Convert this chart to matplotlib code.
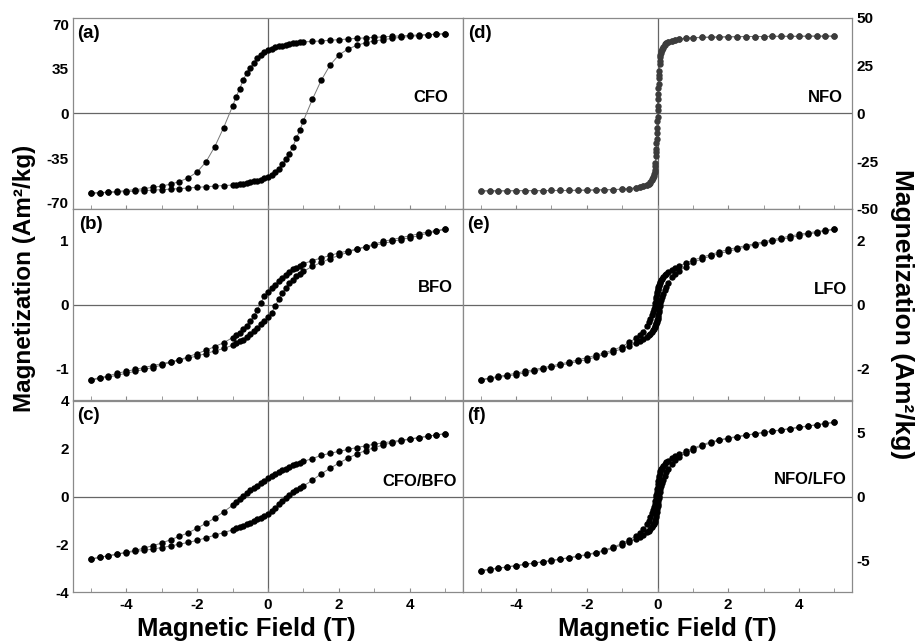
import matplotlib
matplotlib.use("Agg")
import matplotlib.pyplot as plt
from matplotlib.ticker import MultipleLocator

plt.rcParams['font.family'] = ['Liberation Sans', 'DejaVu Sans']
plt.rcParams['font.weight'] = 'bold'
plt.rcParams['axes.unicode_minus'] = False

# field steps (T), sweep from +5 to -5; the return branch uses the same fields
H_coarse = [5.0, 4.75, 4.5, 4.25, 4.0, 3.75, 3.5, 3.25, 3.0, 2.75, 2.5, 2.25, 2.0, 1.75, 1.5, 1.25,
            1.0, 0.9, 0.8, 0.7, 0.6, 0.5, 0.4, 0.3, 0.2, 0.1, 0.0, -0.1, -0.2, -0.3, -0.4, -0.5,
            -0.6, -0.7, -0.8, -0.9, -1.0,
            -1.25, -1.5, -1.75, -2.0, -2.25, -2.5, -2.75, -3.0, -3.25, -3.5, -3.75, -4.0, -4.25,
            -4.5, -4.75, -5.0]
H_fine = [5.0, 4.75, 4.5, 4.25, 4.0, 3.75, 3.5, 3.25, 3.0, 2.75, 2.5, 2.25, 2.0, 1.75, 1.5, 1.25,
          1.0, 0.8, 0.6, 0.5, 0.4, 0.3, 0.25, 0.2, 0.15, 0.12, 0.1, 0.08, 0.06, 0.04, 0.03, 0.02,
          0.01, 0.0,
          -0.01, -0.02, -0.03, -0.04, -0.06, -0.08, -0.1, -0.12, -0.15, -0.2, -0.25, -0.3, -0.4,
          -0.5, -0.6, -0.8, -1.0,
          -1.25, -1.5, -1.75, -2.0, -2.25, -2.5, -2.75, -3.0, -3.25, -3.5, -3.75, -4.0, -4.25,
          -4.5, -4.75, -5.0]

# (a) CFO
cfo_down = [62.6, 62.3, 62.0, 61.7, 61.3, 61.0, 60.6, 60.2, 59.8, 59.4, 59.0, 58.5, 58.0, 57.5, 57.0, 56.6,
            56.2, 55.8, 55.4, 55.0, 54.5, 54.0, 53.4, 52.8, 52.0, 51.0, 49.8, 48.0, 46.0, 43.5, 40.0, 36.0,
            32.0, 26.0, 19.5, 13.0, 5.7,
            -11.0, -26.0, -38.0, -46.0, -50.5, -53.5, -55.5, -57.0, -58.0, -59.0, -59.8, -60.5, -61.2,
            -61.7, -62.2, -62.6]
cfo_up = [62.6, 62.2, 61.7, 61.2, 60.5, 59.8, 59.0, 58.0, 57.0, 55.5, 53.5, 50.5, 46.0, 38.0, 26.0, 11.0,
          -5.7, -13.0, -19.5, -26.0, -32.0, -36.0, -40.0, -43.5, -46.0, -48.0, -49.8, -51.0, -52.0, -52.8,
          -53.4, -54.0, -54.5, -55.0, -55.4, -55.8, -56.2,
          -56.6, -57.0, -57.5, -58.0, -58.5, -59.0, -59.4, -59.8, -60.2, -60.6, -61.0, -61.3, -61.7,
          -62.0, -62.3, -62.6]

# (b) BFO
bfo_down = [1.18, 1.15, 1.12, 1.08, 1.05, 1.02, 0.99, 0.96, 0.93, 0.90, 0.87, 0.84, 0.81, 0.77, 0.73, 0.69,
            0.64, 0.61, 0.58, 0.55, 0.51, 0.47, 0.42, 0.37, 0.31, 0.26, 0.20, 0.13, 0.03, -0.08, -0.18,
            -0.26, -0.33, -0.39, -0.44, -0.48, -0.52,
            -0.60, -0.66, -0.72, -0.77, -0.82, -0.87, -0.91, -0.95, -0.99, -1.02, -1.05, -1.08, -1.11,
            -1.14, -1.16, -1.19]
bfo_up = [1.19, 1.16, 1.14, 1.11, 1.08, 1.05, 1.02, 0.99, 0.95, 0.91, 0.87, 0.82, 0.77, 0.72, 0.66, 0.60,
          0.52, 0.48, 0.44, 0.39, 0.33, 0.26, 0.18, 0.08, -0.03, -0.13, -0.20, -0.26, -0.31, -0.37, -0.42,
          -0.47, -0.51, -0.55, -0.58, -0.61, -0.64,
          -0.69, -0.73, -0.77, -0.81, -0.84, -0.87, -0.90, -0.93, -0.96, -0.99, -1.02, -1.05, -1.08,
          -1.12, -1.15, -1.18]

# (c) CFO/BFO
cb_down = [2.63, 2.58, 2.52, 2.47, 2.41, 2.36, 2.30, 2.25, 2.19, 2.12, 2.05, 1.97, 1.89, 1.81, 1.72, 1.59,
           1.47, 1.42, 1.36, 1.30, 1.23, 1.16, 1.09, 1.01, 0.93, 0.86, 0.78, 0.66, 0.55, 0.45, 0.36, 0.26,
           0.15, 0.03, -0.09, -0.23, -0.37,
           -0.64, -0.90, -1.12, -1.33, -1.52, -1.67, -1.81, -1.95, -2.06, -2.16, -2.26, -2.33, -2.41,
           -2.48, -2.55, -2.62]
cb_up = [2.63, 2.58, 2.52, 2.46, 2.40, 2.33, 2.25, 2.16, 2.05, 1.92, 1.78, 1.60, 1.40, 1.18, 0.95, 0.68,
         0.44, 0.36, 0.28, 0.18, 0.07, -0.06, -0.19, -0.33, -0.47, -0.62, -0.75, -0.83, -0.90, -0.96,
         -1.03, -1.09, -1.15, -1.22, -1.28, -1.34, -1.40,
         -1.51, -1.62, -1.73, -1.84, -1.92, -2.00, -2.07, -2.14, -2.20, -2.26, -2.30, -2.35, -2.42,
         -2.48, -2.55, -2.62]

# (d) NFO
nfo_down = [40.5, 40.5, 40.5, 40.5, 40.4, 40.4, 40.4, 40.4, 40.3, 40.3, 40.3, 40.2, 40.2, 40.1, 40.0, 39.9,
            39.7, 39.4, 39.0, 38.7, 38.2, 37.5, 37.0, 36.2, 35.0, 33.8, 32.5, 30.5, 27.5, 22.5, 18.5,
            13.5, 7.5, 2.0,
            -4.0, -10.0, -15.5, -20.0, -26.0, -29.5, -31.8, -33.2, -34.5, -35.8, -36.7, -37.2, -38.0,
            -38.5, -38.9, -39.3, -39.6,
            -39.8, -39.9, -40.0, -40.1, -40.2, -40.3, -40.3, -40.3, -40.4, -40.4, -40.4, -40.4, -40.5,
            -40.5, -40.5, -40.5]
nfo_up = [40.5, 40.5, 40.5, 40.5, 40.4, 40.4, 40.4, 40.4, 40.3, 40.3, 40.3, 40.2, 40.1, 40.0, 39.9, 39.8,
          39.6, 39.3, 38.9, 38.5, 38.0, 37.2, 36.7, 35.8, 34.5, 33.2, 31.8, 29.5, 26.0, 20.0, 15.5,
          10.0, 4.0, -2.0,
          -7.5, -13.5, -18.5, -22.5, -27.5, -30.5, -32.5, -33.8, -35.0, -36.2, -37.0, -37.5, -38.2,
          -38.7, -39.0, -39.4, -39.7,
          -39.9, -40.0, -40.1, -40.2, -40.2, -40.3, -40.3, -40.3, -40.4, -40.4, -40.4, -40.4, -40.5,
          -40.5, -40.5, -40.5]

# (e) LFO
lfo_down = [2.37, 2.33, 2.29, 2.25, 2.20, 2.15, 2.09, 2.03, 1.97, 1.91, 1.85, 1.79, 1.73, 1.65, 1.57, 1.48,
            1.39, 1.30, 1.20, 1.14, 1.08, 1.01, 0.97, 0.92, 0.86, 0.81, 0.77, 0.72, 0.67, 0.61, 0.57,
            0.54, 0.50, 0.47,
            0.40, 0.33, 0.25, 0.18, 0.05, -0.06, -0.15, -0.22, -0.32, -0.45, -0.55, -0.68, -0.85,
            -0.97, -1.05, -1.19, -1.32,
            -1.43, -1.52, -1.60, -1.67, -1.74, -1.81, -1.87, -1.93, -1.99, -2.05, -2.10, -2.16, -2.21,
            -2.26, -2.31, -2.36]
lfo_up = [2.36, 2.31, 2.26, 2.21, 2.16, 2.10, 2.05, 1.99, 1.93, 1.87, 1.81, 1.74, 1.67, 1.60, 1.52, 1.43,
          1.32, 1.19, 1.05, 0.97, 0.85, 0.68, 0.55, 0.45, 0.32, 0.22, 0.15, 0.06, -0.05, -0.18, -0.25,
          -0.33, -0.40, -0.47,
          -0.50, -0.54, -0.57, -0.61, -0.67, -0.72, -0.77, -0.81, -0.86, -0.92, -0.97, -1.01, -1.08,
          -1.14, -1.20, -1.30, -1.39,
          -1.48, -1.57, -1.65, -1.73, -1.79, -1.85, -1.91, -1.97, -2.03, -2.09, -2.15, -2.20, -2.25,
          -2.29, -2.33, -2.37]

# (f) NFO/LFO
nl_down = [5.83, 5.74, 5.64, 5.54, 5.44, 5.34, 5.24, 5.14, 5.04, 4.93, 4.82, 4.71, 4.60, 4.45, 4.28, 4.05,
           3.78, 3.55, 3.32, 3.18, 3.00, 2.80, 2.68, 2.55, 2.38, 2.25, 2.15, 2.02, 1.85, 1.60, 1.42,
           1.20, 0.95, 0.75,
           0.55, 0.35, 0.15, -0.05, -0.35, -0.62, -0.85, -1.05, -1.30, -1.60, -1.90, -2.15, -2.55,
           -2.85, -3.08, -3.40, -3.68,
           -3.98, -4.20, -4.40, -4.55, -4.68, -4.80, -4.91, -5.02, -5.12, -5.22, -5.32, -5.42, -5.52,
           -5.62, -5.72, -5.82]
nl_up = [5.82, 5.72, 5.62, 5.52, 5.42, 5.32, 5.22, 5.12, 5.02, 4.91, 4.80, 4.68, 4.55, 4.40, 4.20, 3.98,
         3.68, 3.40, 3.08, 2.85, 2.55, 2.15, 1.90, 1.60, 1.30, 1.05, 0.85, 0.62, 0.35, 0.05, -0.15,
         -0.35, -0.55, -0.75,
         -0.95, -1.20, -1.42, -1.60, -1.85, -2.02, -2.15, -2.25, -2.38, -2.55, -2.68, -2.80, -3.00,
         -3.18, -3.32, -3.55, -3.78,
         -4.05, -4.28, -4.45, -4.60, -4.71, -4.82, -4.93, -5.04, -5.14, -5.24, -5.34, -5.44, -5.54,
         -5.64, -5.74, -5.83]

tags = ['(a)', '(b)', '(c)', '(d)', '(e)', '(f)']
samples = ['CFO', 'BFO', 'CFO/BFO', 'NFO', 'LFO', 'NFO/LFO']
y_limits = [75, 1.5, 4, 50, 3, 7.5]
y_ticks = [[-70, -35, 0, 35, 70], [-1, 0, 1], [-4, -2, 0, 2, 4],
           [-50, -25, 0, 25, 50], [-2, 0, 2], [-5, 0, 5]]
x_ticks = [-4, -2, 0, 2, 4]

fig = plt.figure(figsize=(9.17, 6.43), dpi=100)

col_left = [73 / 917, 463 / 917]
col_width = [390 / 917, 389 / 917]
row_h = 191 / 643
row_top = [18, 209, 400]
row_bottom = [1 - 209 / 643, 1 - 400 / 643, 1 - 592 / 643]
# label anchors in pixels (right end x, centre y) for the sample names
name_x = [448, 453, 457, 843, 847, 847]
name_y = [97, 288, 482, 97, 289, 479]
tag_x = [77, 79, 77, 468, 467, 467]

loops = [(H_coarse, cfo_down, cfo_up), (H_coarse, bfo_down, bfo_up), (H_coarse, cb_down, cb_up),
         (H_fine, nfo_down, nfo_up), (H_fine, lfo_down, lfo_up), (H_fine, nl_down, nl_up)]

for i, (H, m_down, m_up) in enumerate(loops):
    col, row = i // 3, i % 3
    ax = fig.add_axes([col_left[col], row_bottom[row], col_width[col], row_h])
    dot = '#3c3c3c' if i == 3 else 'black'
    for m in (m_down, m_up):
        ax.plot(H, m, '-', color='#777777', lw=0.7, zorder=2)
        ax.plot(H, m, 'o', color=dot, ms=4.6, mec='none', zorder=3)

    ax.axhline(0, color='#666666', lw=0.9, zorder=1)
    ax.axvline(0, color='#666666', lw=0.9, zorder=1)
    ax.set_xlim(-5.5, 5.5)
    ax.set_ylim(-y_limits[i], y_limits[i])
    ax.set_yticks(y_ticks[i])
    ax.set_xticks(x_ticks)
    ax.xaxis.set_minor_locator(MultipleLocator(1))
    for s in ax.spines.values():
        s.set_color('#8a8a8a')
        s.set_linewidth(0.9)
    ax.tick_params(axis='x', which='both', direction='in', length=3, color='#8a8a8a',
                   labelsize=11, pad=4)
    ax.tick_params(axis='y', length=0, labelsize=11, pad=3)
    if row != 2:
        ax.tick_params(axis='x', labelbottom=False)
    if col == 1:
        ax.yaxis.tick_right()
        ax.tick_params(axis='y', length=0, pad=3)
    for lab in ax.get_xticklabels() + ax.get_yticklabels():
        lab.set_fontweight('bold')

    fig.text(tag_x[i] / 917, 1 - (row_top[row] + 7) / 643, tags[i], ha='left', va='top',
             fontsize=13.5, fontweight='bold')
    fig.text(name_x[i] / 917, 1 - name_y[i] / 643, samples[i], ha='right', va='center',
             fontsize=12, fontweight='bold')

fig.text(25 / 917, 1 - 278 / 643, 'Magnetization (Am²/kg)', rotation=90, ha='center',
         va='center', fontsize=17.5, fontweight='bold')
fig.text(902 / 917, 1 - 314 / 643, 'Magnetization (Am²/kg)', rotation=270, ha='center',
         va='center', fontsize=19, fontweight='bold')
fig.text(246 / 917, 0.022, 'Magnetic Field (T)', ha='center', va='center',
         fontsize=18.5, fontweight='bold')
fig.text(667 / 917, 0.022, 'Magnetic Field (T)', ha='center', va='center',
         fontsize=18.5, fontweight='bold')

fig.savefig('out.png', dpi=100)
